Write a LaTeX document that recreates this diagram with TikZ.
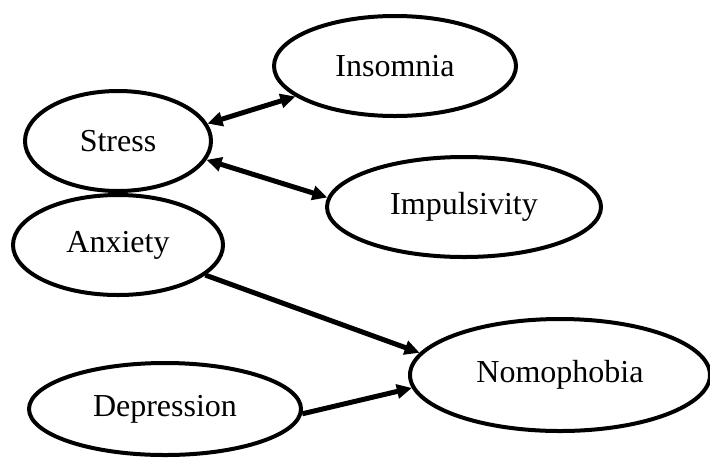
\documentclass[tikz,border=0pt]{standalone}
\usepackage{fontspec}
\setmainfont{Liberation Serif}
\usetikzlibrary{arrows.meta,shapes.geometric}

\tikzset{
  var/.style={ellipse, draw, line width=2pt, inner sep=0pt,
    font=\fontsize{16}{18}\selectfont},
  link/.style={line width=2.5pt, -{Triangle[length=7.5pt,width=7pt]}},
  twoway/.style={line width=2.5pt,
    {Triangle[length=7.5pt,width=7pt]}-{Triangle[length=7.5pt,width=7pt]}}
}

\begin{document}
\begin{tikzpicture}[x=0.5pt,y=-0.5pt]
    \useasboundingbox (0,0) rectangle (710,461);

    \node[var, minimum width=121pt, minimum height=50pt] (Insom) at (395,66) {Insomnia};
    \node[var, minimum width=93pt, minimum height=50pt] (Stress) at (118,141) {Stress};
    \node[var, minimum width=137pt, minimum height=50pt] (Impul) at (464,207) {Impulsivity};
    \node[var, minimum width=105pt, minimum height=50pt] (Anx) at (118,245) {Anxiety};
    \node[var, minimum width=150pt, minimum height=56pt] (Nomo) at (560,375) {Nomophobia};
    \node[var, minimum width=136pt, minimum height=46pt] (Dep) at (165,409) {Depression};

    \draw[twoway] (Stress.11) -- (Insom.197);
    \draw[twoway] (Stress.-12) -- (Impul.176);
    \draw[link] (Anx.-19) -- (Nomo.171);
    \draw[link] (Dep.-2) -- (Nomo.185);
  \end{tikzpicture}
\end{document}
